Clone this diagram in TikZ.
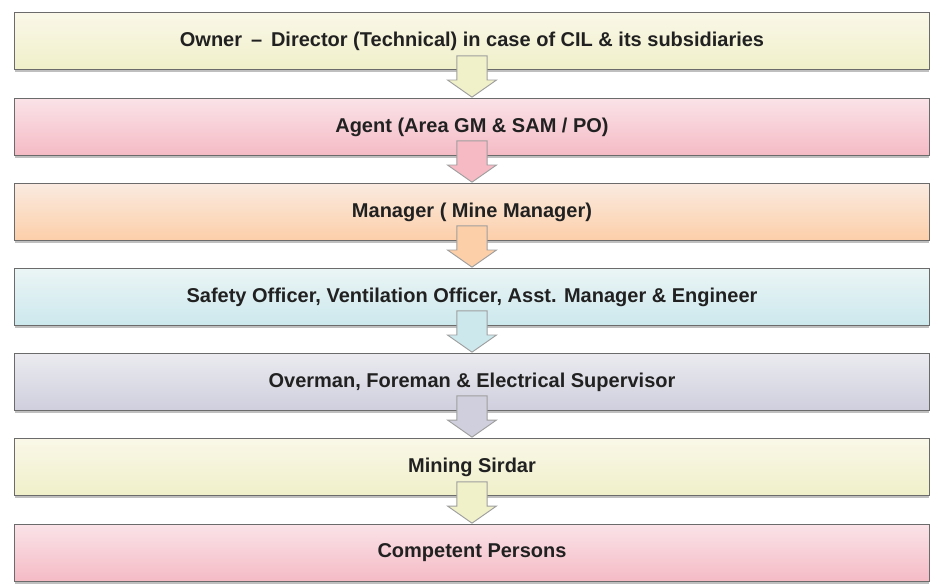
\documentclass[tikz,border=0pt]{standalone}
\usepackage{fontspec}
\setmainfont{Liberation Sans}
\usepackage{tikz}
\usetikzlibrary{shapes.arrows,shadows}
\definecolor{yelltop}{rgb}{0.98,0.97,0.91}
\definecolor{yellbot}{rgb}{0.94,0.94,0.79}
\definecolor{pinktop}{rgb}{0.98,0.89,0.91}
\definecolor{pinkbot}{rgb}{0.96,0.73,0.77}
\definecolor{peachtop}{rgb}{0.98,0.92,0.88}
\definecolor{peachbot}{rgb}{0.99,0.81,0.66}
\definecolor{cyantop}{rgb}{0.92,0.96,0.96}
\definecolor{cyanbot}{rgb}{0.80,0.91,0.93}
\definecolor{lavtop}{rgb}{0.92,0.92,0.94}
\definecolor{lavbot}{rgb}{0.81,0.81,0.87}
\definecolor{edgegray}{rgb}{0.42,0.42,0.42}
\definecolor{txtgray}{rgb}{0.13,0.13,0.13}
\tikzset{
  levelbox/.style={draw=edgegray,line width=0.9pt,minimum width=686pt,minimum height=43pt,
    inner sep=0pt,font=\bfseries\fontsize{15}{17}\selectfont,text=txtgray,
    drop shadow={shadow xshift=0pt,shadow yshift=-1.5pt,opacity=0.5}},
  downarrow/.style={single arrow,rotate=-90,anchor=tip,draw=gray!75,line width=0.7pt,
    minimum height=31pt,inner xsep=0pt,inner ysep=11pt,single arrow head extend=7pt,
    single arrow tip angle=110,single arrow head indent=0pt}
}

\begin{document}
\begin{tikzpicture}[x=0.75pt,y=-0.75pt]
        \useasboundingbox (0,0) rectangle (936,588);
        \node[levelbox,top color=yelltop,bottom color=yellbot] (owner) at (472,41) {Owner \,–\, Director (Technical) in case of CIL \& its subsidiaries};
        \node[levelbox,top color=pinktop,bottom color=pinkbot] (agent) at (472,127) {Agent (Area GM \& SAM / PO)};
        \node[levelbox,top color=peachtop,bottom color=peachbot] (manager) at (472,212) {Manager ( Mine Manager)};
        \node[levelbox,top color=cyantop,bottom color=cyanbot] (safety) at (472,297) {Safety Officer, Ventilation Officer, Asst. Manager \& Engineer};
        \node[levelbox,top color=lavtop,bottom color=lavbot] (overman) at (472,382) {Overman, Foreman \& Electrical Supervisor};
        \node[levelbox,top color=yelltop,bottom color=yellbot] (sirdar) at (472,467) {Mining Sirdar};
        \node[levelbox,top color=pinktop,bottom color=pinkbot] (competent) at (472,553) {Competent Persons};
        \node[downarrow,fill=yellbot] (arrA) at (agent.north) {};
        \node[downarrow,fill=pinkbot] (arrB) at (manager.north) {};
        \node[downarrow,fill=peachbot] (arrC) at (safety.north) {};
        \node[downarrow,fill=cyanbot] (arrD) at (overman.north) {};
        \node[downarrow,fill=lavbot] (arrE) at (sirdar.north) {};
        \node[downarrow,fill=yellbot] (arrF) at (competent.north) {};
\end{tikzpicture}
\end{document}
